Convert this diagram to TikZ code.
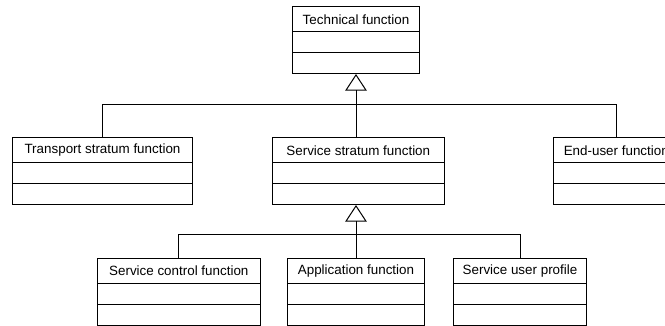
\documentclass[tikz,border=0pt]{standalone}
\usepackage{fontspec}
\setmainfont{Liberation Sans}
\usetikzlibrary{arrows.meta}
\begin{document}
\begin{tikzpicture}[x=1pt,y=-1pt,
  part/.style={draw, line width=1pt, inner sep=0pt, outer sep=0pt, anchor=north},
  title/.style={part, minimum height=25pt, font=\fontsize{13.4}{15}\selectfont},
  conn/.style={line width=0.8pt},
  gen/.style={conn, -{Triangle[open, length=16.7pt, width=21.6pt, line width=1pt]}}]
\useasboundingbox (0,0) rectangle (665,326);
\clip (0,0) rectangle (665,326);
\newcommand\umlbox[5]{%
  \node[title, minimum width=#4pt] (#1) at (#2,#3) {#5};
  \node[part, minimum width=#4pt, minimum height=21pt] (#1-a) at (#1.south) {};
  \node[part, minimum width=#4pt, minimum height=21pt] (#1-b) at (#1-a.south) {};
}
\umlbox{tech}{356}{7}{127.6}{Technical function}
\umlbox{trans}{102.5}{138}{180.4}{Transport stratum function}
\umlbox{ss}{358.3}{138}{172}{Service stratum function}
\umlbox{eu}{616.3}{138}{126}{End-user function}
\umlbox{sc}{178.8}{258.3}{163}{Service control function}
\umlbox{app}{356}{258.3}{137.6}{Application function}
\umlbox{sup}{520}{258.3}{133.4}{Service user profile}
\coordinate (j1) at (356,104);
\coordinate (j2) at (356,234);
\draw[gen] (j1) -- (tech-b.south);
\draw[conn] (trans.north) |- (eu.north |- j1) -- (eu.north);
\draw[conn] (j1) -- (j1 |- ss.north);
\draw[gen] (j2) -- (j2 |- ss-b.south);
\draw[conn] (sc.north) |- (sup.north |- j2) -- (sup.north);
\draw[conn] (j2) -- (app.north);
\end{tikzpicture}
\end{document}
